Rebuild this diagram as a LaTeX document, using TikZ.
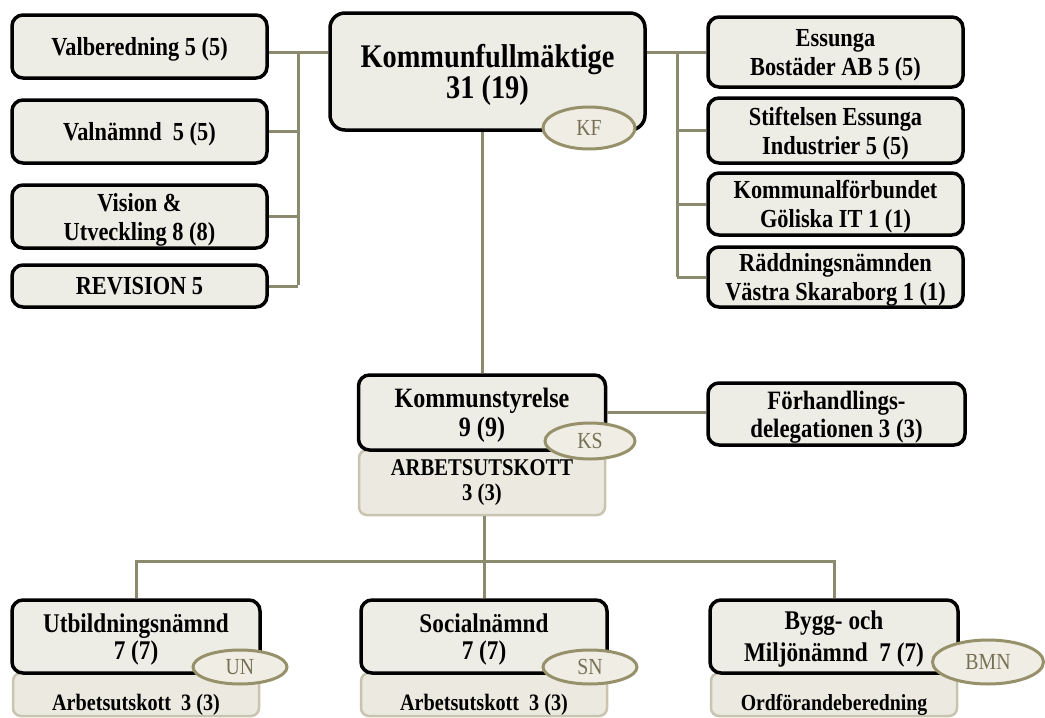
\documentclass[tikz,border=0pt]{standalone}
\usepackage{fontspec}
\setmainfont{Liberation Serif}[FakeStretch=0.86]
\usetikzlibrary{shapes.geometric}
\definecolor{boxfill}{RGB}{238,237,229}
\definecolor{subfill}{RGB}{236,234,224}
\definecolor{subline}{RGB}{200,196,176}
\definecolor{connline}{RGB}{140,138,110}
\definecolor{ellline}{RGB}{150,145,106}
\definecolor{ellfill}{RGB}{240,238,228}
\definecolor{elltext}{RGB}{118,113,85}
\begin{document}
\begin{tikzpicture}[x=1pt,y=-1pt,
  mainbox/.style={draw=black, line width=3.5pt, rounded corners=11pt, fill=boxfill, align=center, inner sep=0pt, text depth=0pt, font=\fontsize{26}{29}\selectfont\bfseries},
  subbox/.style={draw=subline, line width=2.5pt, rounded corners=8pt, fill=subfill, align=center, inner sep=0pt, font=\fontsize{24}{25}\selectfont\bfseries},
  conn/.style={draw=connline, line width=3pt},
  tag/.style={ellipse, draw=ellline, line width=3pt, fill=ellfill, text=elltext, inner sep=0pt, font=\fontsize{23}{23}\selectfont},
  bottomtext/.style={font=\fontsize{27}{27}\selectfont\bfseries}
]
\useasboundingbox (0,0) rectangle (1045,718);
\fill[white] (0,0) rectangle (1045,718);

% left column
\node[mainbox, minimum width=255pt, minimum height=63pt] (vb) at (139.5,46.5) {Valberedning 5 (5)};
\node[mainbox, minimum width=255pt, minimum height=63pt] (vn) at (139.5,131.5) {Valnämnd\ \ 5 (5)};
\node[mainbox, minimum width=255pt, minimum height=63pt] (vu) at (139.5,216.5) {Vision \&\\Utveckling 8 (8)};
\node[mainbox, minimum width=255pt, minimum height=42pt] (rev) at (139.5,286) {REVISION 5};

% KF
\node[mainbox, font=\fontsize{33}{31}\selectfont\bfseries, minimum width=315pt, minimum height=117pt, rounded corners=15pt, text depth=-5pt] (kf) at (487.5,71.5) {Kommunfullmäktige\\31 (19)};

% right column
\node[mainbox, minimum width=255pt, minimum height=70pt] (eb) at (835.5,52) {Essunga\\Bostäder AB 5 (5)};
\node[mainbox, minimum width=255pt, minimum height=65pt] (se) at (835.5,130.5) {Stiftelsen Essunga\\Industrier 5 (5)};
\node[mainbox, minimum width=255pt, minimum height=62pt] (kg) at (835.5,204) {Kommunalförbundet\\Göliska IT 1 (1)};
\node[mainbox, minimum width=255pt, minimum height=60pt] (rs) at (835.5,277) {Räddningsnämnden\\Västra Skaraborg 1 (1)};

% KS
\node[subbox, minimum width=246pt, minimum height=65pt] (arb) at (482,482.5) {ARBETSUTSKOTT\\3 (3)};
\node[mainbox, font=\fontsize{28}{29}\selectfont\bfseries, minimum width=247pt, minimum height=75pt, text depth=-5pt] (ks) at (482,412.5) {Kommunstyrelse\\9 (9)};
\node[mainbox, font=\fontsize{26.5}{28}\selectfont\bfseries, minimum width=257pt, minimum height=62pt] (fd) at (836.5,414) {Förhandlings-\\delegationen 3 (3)};

% bottom row
\node[subbox, minimum width=246pt, minimum height=43pt, text height=31pt, text depth=0pt, font=\fontsize{23.5}{25}\selectfont\bfseries] (utbsub) at (136,694.5) {Arbetsutskott\ \ 3 (3)};
\node[mainbox, bottomtext, minimum width=248pt, minimum height=73pt] (utb) at (136,636.5) {Utbildningsnämnd\\7 (7)};
\node[subbox, minimum width=246pt, minimum height=43pt, text height=31pt, text depth=0pt, font=\fontsize{23.5}{25}\selectfont\bfseries] (socsub) at (484,694.5) {Arbetsutskott\ \ 3 (3)};
\node[mainbox, bottomtext, minimum width=246pt, minimum height=73pt] (soc) at (484,636.5) {Socialnämnd\\7 (7)};
\node[subbox, minimum width=246pt, minimum height=43pt, text height=31pt, text depth=0pt, font=\fontsize{23}{25}\selectfont\bfseries] (bygsub) at (834,694.5) {Ordförandeberedning};
\node[mainbox, bottomtext, minimum width=248pt, minimum height=73pt] (byg) at (834,636.5) {Bygg- och\\[5pt]Miljönämnd\ \ 7 (7)};

% connectors
\coordinate (lt) at (298,52);
\coordinate (lb) at (298,285);
\draw[conn] (vb.east |- lt) -- (kf.west |- lt);
\draw[conn] (lt) -- (lb);
\draw[conn] (vn.east) -- (vn.east -| lt);
\draw[conn] (vu.east) -- (vu.east -| lt);
\draw[conn] (rev.east) -- (rev.east -| lt);

\coordinate (rt) at (677,52);
\coordinate (rb) at (677,277);
\draw[conn] (kf.east |- rt) -- (eb.west |- rt);
\draw[conn] (rt) -- (rb);
\draw[conn] (se.west) -- (se.west -| rt);
\draw[conn] (kg.west) -- (kg.west -| rt);
\draw[conn] (rs.west) -- (rs.west -| rt);

\draw[conn] (kf.south -| ks.north) -- (ks.north);
\draw[conn] (ks.east) -- (ks.east -| fd.west);

\coordinate (bm) at (484,561);
\draw[conn] (arb.south -| bm) -- (bm);
\draw[conn] (bm) -- (soc.north);
\draw[conn] (utb.north) |- (bm) -| (byg.north);

% tags
\node[tag, minimum width=92pt, minimum height=42pt] (kftag) at (589,128) {KF};
\node[tag, minimum width=90pt, minimum height=36pt] (kstag) at (590,441) {KS};
\node[tag, minimum width=94pt, minimum height=34pt] (untag) at (240,667) {UN};
\node[tag, minimum width=94pt, minimum height=34pt] (sntag) at (590,667) {SN};
\node[tag, minimum width=111pt, minimum height=44pt] (bmntag) at (988,662) {BMN};
\end{tikzpicture}
\end{document}
